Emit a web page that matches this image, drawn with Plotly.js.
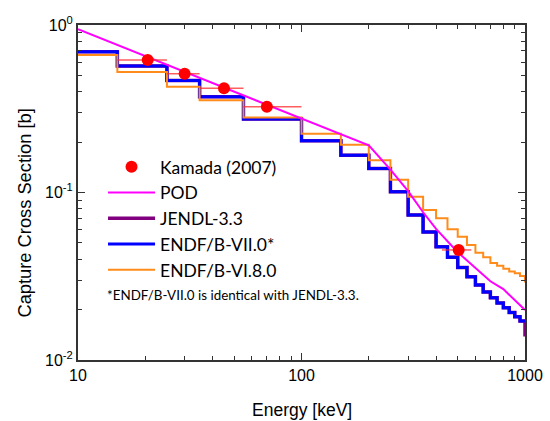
<!DOCTYPE html>
<html>
<head>
<meta charset="utf-8">
<script src="https://cdn.plot.ly/plotly-3.0.1.min.js"></script>
<style>html,body{margin:0;padding:0;background:#fff;}#chart{width:550px;height:421px;}</style>
</head>
<body>
<div id="chart"></div>
<script>
// Group-boundary energies (keV) for the step-wise evaluated data
const binEdges = [10, 15, 25, 35, 55, 100, 150, 200, 250, 300, 350, 400, 450, 500, 550, 600, 650, 700, 750, 800, 850, 900, 950, 1000];

// Group cross sections (b); the last entry is the value drawn at the 1000 keV edge
const jendl33 = [0.693, 0.569, 0.466, 0.373, 0.275, 0.204, 0.167, 0.139, 0.101, 0.0734, 0.0581, 0.0475, 0.0410, 0.0357, 0.0314, 0.0280, 0.0255, 0.0235, 0.0219, 0.0205, 0.0192, 0.0181, 0.0171, 0.0138];
const endfB7 = [0.693, 0.569, 0.466, 0.373, 0.275, 0.204, 0.167, 0.139, 0.101, 0.0734, 0.0581, 0.0475, 0.0410, 0.0357, 0.0314, 0.0280, 0.0255, 0.0235, 0.0219, 0.0205, 0.0192, 0.0181, 0.0171, 0.0171];
const endfB68 = [0.662, 0.524, 0.428, 0.355, 0.280, 0.224, 0.193, 0.156, 0.119, 0.0944, 0.0786, 0.0701, 0.0603, 0.0545, 0.0486, 0.0437, 0.0410, 0.0380, 0.0365, 0.0350, 0.0338, 0.0329, 0.0317, 0.0290];

// POD calculation
const podE = [10, 100, 150, 200, 250, 300, 350, 400, 500, 570, 700, 800, 1000];
const podXS = [0.943, 0.275, 0.2205, 0.191, 0.137, 0.102, 0.0762, 0.0606, 0.0440, 0.0378, 0.0295, 0.0265, 0.0199];

// Kamada (2007) measurement
const kamadaE = [20.5, 30, 45, 70, 505];
const kamadaXS = [0.618, 0.512, 0.419, 0.325, 0.0454];
const kamadaElo = [15, 25, 35, 55, 425];
const kamadaEhi = [25, 35, 55, 100, 575];

// Tick labels
const xTickVals = [10, 100, 1000];
const xTickText = ['10', '100', '1000'];
const yTickVals = [0.01, 0.1, 1];
const yTickText = ['10<sup>-2</sup>', '10<sup>-1</sup>', '10<sup>0</sup>'];

const minorX = [], minorY = [];
[10, 100].forEach(d => { for (let k = 2; k <= 9; k++) minorX.push(k * d); });
[0.01, 0.1].forEach(d => { for (let k = 2; k <= 9; k++) minorY.push(k * d); });

const arial = '"Liberation Sans", Arial, sans-serif';
const calib = 'Lato, "Open Sans", sans-serif';

const traces = [
  {x: binEdges, y: jendl33, type: 'scatter', mode: 'lines', line: {shape: 'hv', color: '#800080', width: 3.5}, name: 'JENDL-3.3', legendrank: 3},
  {x: binEdges, y: endfB7, type: 'scatter', mode: 'lines', line: {shape: 'hv', color: '#0000ff', width: 3}, name: 'ENDF/B-VII.0*', legendrank: 4},
  {x: binEdges, y: endfB68, type: 'scatter', mode: 'lines', line: {shape: 'hv', color: '#ff8c1a', width: 2}, name: 'ENDF/B-VI.8.0', legendrank: 5},
  {x: podE, y: podXS, type: 'scatter', mode: 'lines', line: {color: '#ff00ff', width: 2}, name: 'POD', legendrank: 2},
  {x: kamadaE, y: kamadaXS, type: 'scatter', mode: 'markers', marker: {color: '#ff0000', size: 12},
   error_x: {type: 'data', symmetric: false,
     array: kamadaEhi.map((h, i) => h - kamadaE[i]),
     arrayminus: kamadaE.map((e, i) => e - kamadaElo[i]),
     color: 'rgba(255,40,40,0.75)', thickness: 1.5, width: 0},
   name: 'Kamada (2007)', legendrank: 1}
];

const axisCommon = {
  type: 'log', showgrid: false, zeroline: false, showline: true, linecolor: '#333', linewidth: 2,
  ticks: 'inside', ticklen: 7, tickwidth: 1.2, tickcolor: '#333', mirror: 'ticks',
  tickfont: {family: arial, size: 16, color: '#000'}
};

const layout = {
  width: 550, height: 421,
  margin: {l: 78, r: 25, t: 25, b: 61},
  paper_bgcolor: '#fff', plot_bgcolor: '#fff',
  showlegend: true,
  xaxis: Object.assign({}, axisCommon, {range: [1, 3], tickmode: 'array', tickvals: xTickVals, ticktext: xTickText,
    minor: {tickmode: 'array', tickvals: minorX, ticks: 'inside', ticklen: 4, tickcolor: '#333', tickwidth: 1}}),
  yaxis: Object.assign({}, axisCommon, {range: [-2, 0], tickmode: 'array', tickvals: yTickVals, ticktext: yTickText,
    minor: {tickmode: 'array', tickvals: minorY, ticks: 'inside', ticklen: 4, tickcolor: '#333', tickwidth: 1}}),
  legend: {x: 0.056, y: 0.63, xanchor: 'left', yanchor: 'top', bgcolor: 'rgba(0,0,0,0)', borderwidth: 0,
    itemwidth: 47, font: {family: calib, size: 17.5, color: '#000'}, traceorder: 'normal'},
  annotations: [
    {text: '*ENDF/B-VII.0 is identical with JENDL-3.3.', xref: 'paper', yref: 'paper', x: 0.0604, y: 0.194,
     xanchor: 'left', yanchor: 'middle', showarrow: false, font: {family: calib, size: 13.4, color: '#000'}},
    {text: 'Capture Cross Section [b]', xref: 'paper', yref: 'paper', x: -0.1219, y: 0.4388, textangle: -90,
     xanchor: 'center', yanchor: 'middle', showarrow: false, font: {family: arial, size: 18.3, color: '#000'}},
    {text: 'Energy [keV]', xref: 'paper', yref: 'paper', x: 0.5, y: -0.1134,
     xanchor: 'center', yanchor: 'top', showarrow: false, font: {family: arial, size: 17.5, color: '#000'}}
  ]
};

Plotly.newPlot('chart', traces, layout, {displayModeBar: false, staticPlot: true});
</script>
</body>
</html>
